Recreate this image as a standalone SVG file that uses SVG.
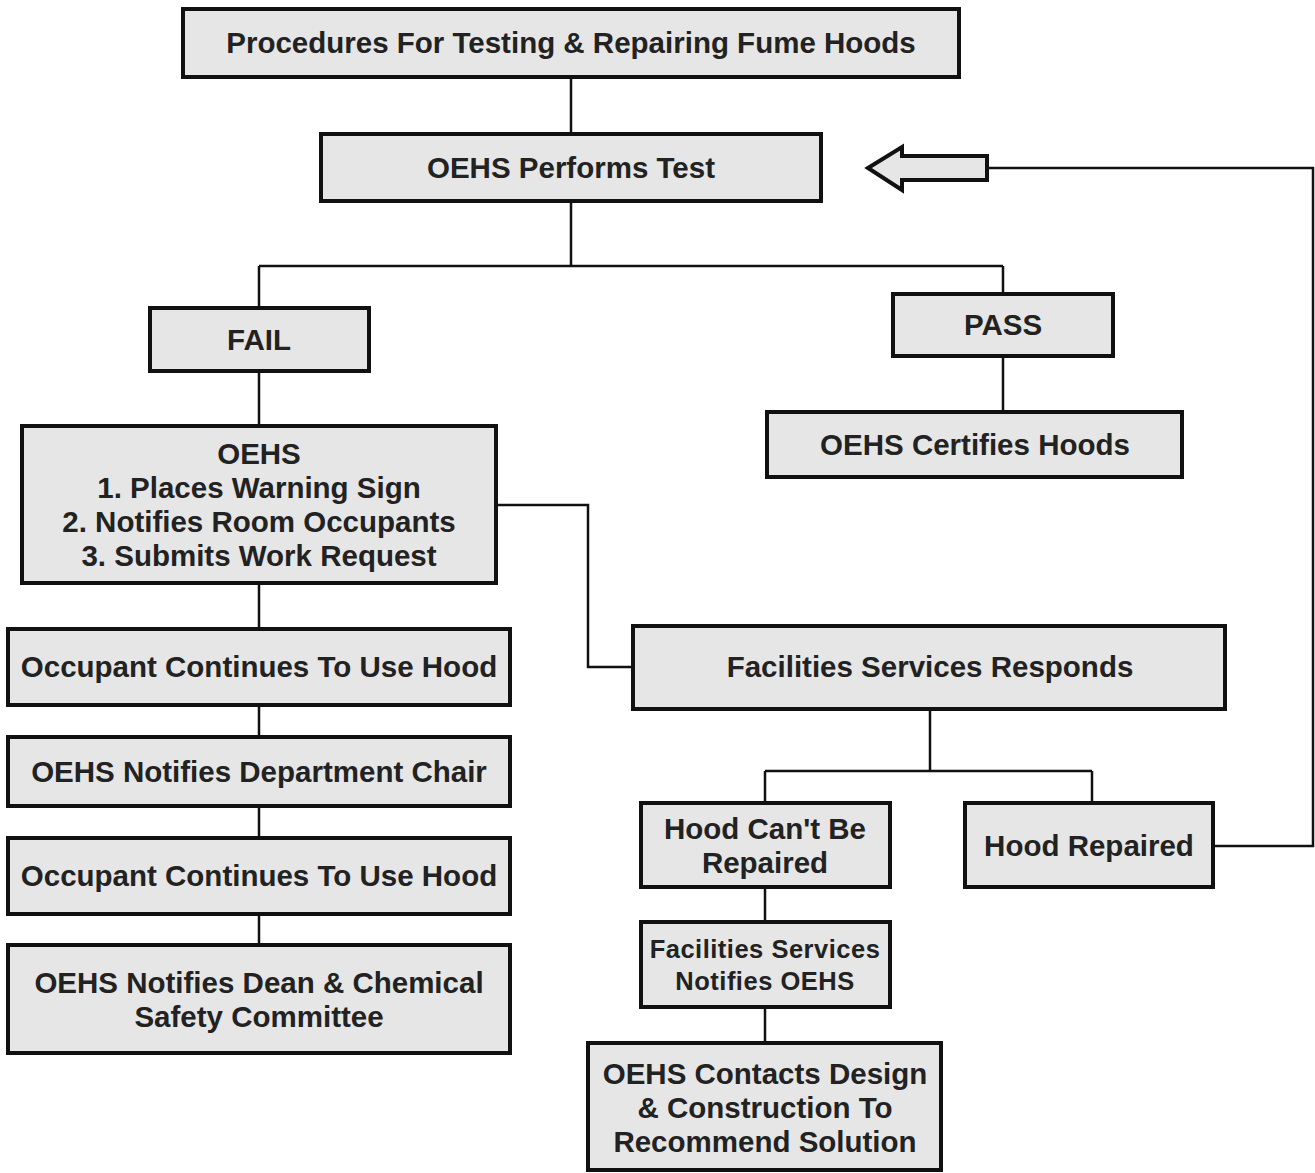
<svg xmlns="http://www.w3.org/2000/svg" width="1315" height="1173" viewBox="0 0 1315 1173">
<style>
.box{fill:#e6e6e6;stroke:#111;stroke-width:4}
.t{font-family:"Liberation Sans",Arial,sans-serif;font-weight:bold;font-size:29.5px;fill:#222;text-anchor:middle}
.s{font-size:25.5px;letter-spacing:0.5px}
.c{fill:none;stroke:#111;stroke-width:2.5}
</style>
<rect width="1315" height="1173" fill="#fff"/>
<g id="connectors">
<path class="c" d="M571 77V134M571 201V266M259 266H1003M259 266V308M1003 266V294M1003 356V412M259 371V426M259 583V629M259 705V737M259 806V838M259 914V945M496 505H588V667H633M930 709V771M765 771H1092M765 771V803M1092 771V803M765 887V922M765 1007V1043M1213 846H1313V168H987"/>
<path d="M868 168L902 147V156H987V180H902V190Z" fill="#e6e6e6" stroke="#111" stroke-width="4" stroke-linejoin="miter"/>
</g>
<g id="title"><rect class="box" x="183" y="9" width="776" height="68"/><text class="t" x="571" y="53">Procedures For Testing &amp; Repairing Fume Hoods</text></g>
<g id="test"><rect class="box" x="321" y="134" width="500" height="67"/><text class="t" x="571" y="178">OEHS Performs Test</text></g>
<g id="fail"><rect class="box" x="150" y="308" width="219" height="63"/><text class="t" x="259" y="350">FAIL</text></g>
<g id="pass"><rect class="box" x="893" y="294" width="220" height="62"/><text class="t" x="1003" y="335">PASS</text></g>
<g id="certifies"><rect class="box" x="767" y="412" width="415" height="65"/><text class="t" x="975" y="455">OEHS Certifies Hoods</text></g>
<g id="oehs"><rect class="box" x="22" y="426" width="474" height="157"/><text class="t" x="259" y="464">OEHS<tspan x="259" dy="34">1. Places Warning Sign</tspan><tspan x="259" dy="34">2. Notifies Room Occupants</tspan><tspan x="259" dy="34">3. Submits Work Request</tspan></text></g>
<g id="occ1"><rect class="box" x="8" y="629" width="502" height="76"/><text class="t" x="259" y="677">Occupant Continues To Use Hood</text></g>
<g id="chair"><rect class="box" x="8" y="737" width="502" height="69"/><text class="t" x="259" y="782">OEHS Notifies Department Chair</text></g>
<g id="occ2"><rect class="box" x="8" y="838" width="502" height="76"/><text class="t" x="259" y="886">Occupant Continues To Use Hood</text></g>
<g id="dean"><rect class="box" x="8" y="945" width="502" height="108"/><text class="t" x="259" y="993">OEHS Notifies Dean &amp; Chemical<tspan x="259" dy="34">Safety Committee</tspan></text></g>
<g id="facilities"><rect class="box" x="633" y="626" width="592" height="83"/><text class="t" x="930" y="677">Facilities Services Responds</text></g>
<g id="cant"><rect class="box" x="641" y="803" width="249" height="84"/><text class="t" x="765" y="839">Hood Can't Be<tspan x="765" dy="34">Repaired</tspan></text></g>
<g id="repaired"><rect class="box" x="965" y="803" width="248" height="84"/><text class="t" x="1089" y="856">Hood Repaired</text></g>
<g id="notifies"><rect class="box" x="641" y="922" width="249" height="85"/><text class="t s" x="765" y="958">Facilities Services<tspan x="765" dy="32">Notifies OEHS</tspan></text></g>
<g id="contacts"><rect class="box" x="588" y="1043" width="353" height="127"/><text class="t" x="765" y="1084">OEHS Contacts Design<tspan x="765" dy="34">&amp; Construction To</tspan><tspan x="765" dy="34">Recommend Solution</tspan></text></g>
</svg>
